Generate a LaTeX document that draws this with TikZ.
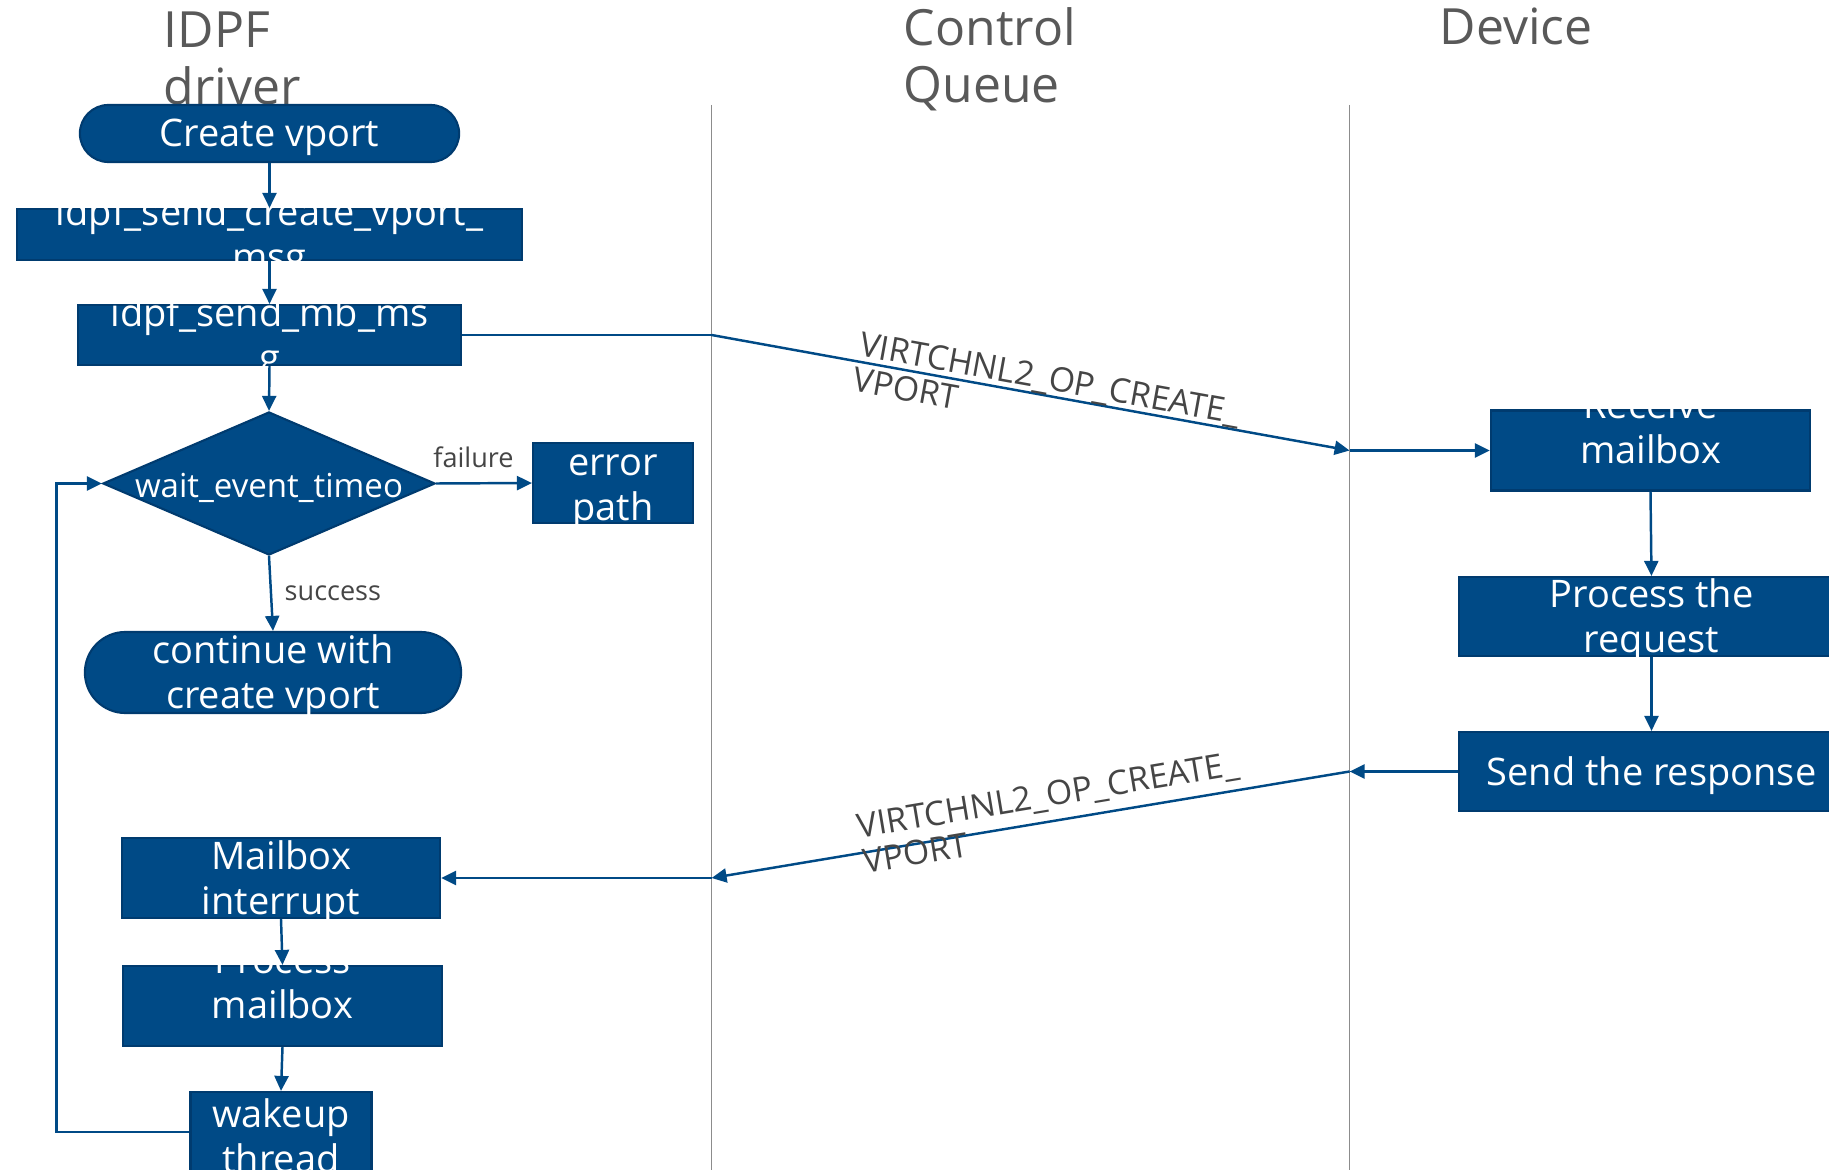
\documentclass[tikz,border=0pt]{standalone}
\usepackage{fontspec}
\setmainfont{Open Sans}
\usetikzlibrary{shapes.geometric,shapes.misc,arrows.meta}

\definecolor{blkblue}{HTML}{004A86}
\definecolor{blkedge}{HTML}{003B6F}
\definecolor{hdrgray}{HTML}{595959}
\definecolor{msggray}{HTML}{454545}
\definecolor{lanegray}{HTML}{8C8C8C}

\def\blkfont{\fontsize{10.8}{12.8}\selectfont}
\def\hdrfont{\fontsize{14.2}{16.2}\selectfont}
\def\msgfont{\fontsize{9.6}{10.2}\selectfont}
\def\askfont{\fontsize{9.4}{11}\selectfont}
\def\tagfont{\fontsize{7.7}{9}\selectfont}

\tikzset{
    blk/.style 2 args={rectangle, draw=blkedge, fill=blkblue, line width=0.6pt,
        inner sep=0pt, minimum width=#1, minimum height=#2},
    term/.style 2 args={rounded rectangle, draw=blkedge, fill=blkblue, line width=0.6pt,
        inner sep=0pt, minimum width=#1, minimum height=#2},
    blktxt/.style={text=white, font=\blkfont, align=center, yshift=-0.04cm},
    hdr/.style={text=hdrgray, font=\hdrfont, align=left, inner sep=0pt},
    flow/.style={draw=blkblue, line width=0.7pt, -{Triangle[length=0.15cm,width=0.14cm]}},
    wire/.style={draw=blkblue, line width=0.4pt},
    lane/.style={draw=lanegray, line width=0.5pt},
    msg/.style={text=msggray, font=\msgfont, align=left, sloped, inner sep=0pt},
    tag/.style={text=msggray, font=\tagfont, inner sep=0pt},
}

\begin{document}
\begin{tikzpicture}[x=0.01cm, y=-0.01cm]
    \useasboundingbox (0,0) rectangle (1829,1170);
    \clip (0,0) rectangle (1829,1170);

    \node[hdr, anchor=north west] (hidpf) at (163,11) {IDPF\\driver};
    \node[hdr, anchor=north west] (hcq) at (903,7) {Control\\Queue};
    \node[hdr, anchor=base west] (hdev) at (1439,45) {Device};

    \draw[lane] (711.6,105) -- (711.6,1170);
    \draw[lane] (1349.6,105) -- (1349.6,1170);
    \coordinate (q1) at (711.6,335);
    \coordinate (q2) at (1349.6,450.5);
    \coordinate (q3) at (1349.6,771.5);
    \coordinate (q4) at (711.6,878);
    \coordinate (loop) at (56.5,1132);

    % driver side
    \node[term={3.79cm}{0.57cm}, label={[blktxt]center:Create vport}] (cv) at (269.5,133.5) {};
    \node[blk={5.05cm}{0.51cm}, label={[blktxt]center:{idpf\_send\_create\_vport\_\\msg}}] (scv) at (269.5,234.5) {};
    \node[blk={3.83cm}{0.60cm}, label={[blktxt]center:{idpf\_send\_mb\_ms\\g}}] (smb) at (269.5,335) {};
    \node[diamond, draw=blkedge, fill=blkblue, line width=0.6pt, inner sep=0pt,
        minimum width=3.32cm, minimum height=1.43cm,
        label={[blktxt, font=\askfont]center:wait\_event\_timeo}] (wait) at (269,483.5) {};
    \node[blk={1.60cm}{0.80cm}, label={[blktxt, yshift=-0.05cm]center:{error\\path}}] (err) at (613,483) {};
    \node[term={3.76cm}{0.81cm}, label={[blktxt]center:{continue with\\create vport}}] (cont) at (273,672.5) {};
    \node[blk={3.18cm}{0.80cm}, label={[blktxt]center:{Mailbox\\interrupt}}] (mbi) at (281,878) {};
    \node[blk={3.19cm}{0.80cm}, label={[blktxt, yshift=0.27cm]center:{Process\\mailbox}}] (pmb) at (282.5,1006) {};
    \node[blk={1.81cm}{0.80cm}, label={[blktxt]center:{wakeup\\thread}}] (wake) at (281,1132) {};

    % device side
    \node[blk={3.19cm}{0.80cm}, label={[blktxt, yshift=0.27cm]center:{Receive\\mailbox}}] (rcv) at (1650.5,450.5) {};
    \node[blk={3.85cm}{0.79cm}, label={[blktxt]center:{Process the\\request}}] (preq) at (1651.5,616.5) {};
    \node[blk={3.85cm}{0.79cm}, label={[blktxt]center:Send the response}] (resp) at (1651.5,771.5) {};

    \draw[flow] (cv.south) -- (scv.north);
    \draw[flow] (scv.south) -- (smb.north);
    \draw[flow] (smb.south) -- (wait.north);
    \draw[flow] (wait.east) -- node[tag, pos=0.39, above=0.14cm] {failure} (err.west);
    \draw[flow] (wait.south) -- node[tag, right=0.125cm] {success} (cont.north);
    \draw[flow] (wake.west) -- (loop) |- (wait.west);
    \draw[flow] (mbi.south) -- (pmb.north);
    \draw[flow] (pmb.south) -- (wake.north);

    \draw[wire] (smb.east) -- (q1);
    \draw[flow] (q1) -- node[msg, pos=0.526] {VIRTCHNL2\_OP\_CREATE\_\\VPORT} (q2);
    \draw[flow] (q2) -- (rcv.west);
    \draw[flow] (rcv.south) -- (preq.north);
    \draw[flow] (preq.south) -- (resp.north);
    \draw[flow] (resp.west) -- (q3);
    \draw[flow] (q3) -- node[msg, pos=0.466, yshift=0.09cm] {VIRTCHNL2\_OP\_CREATE\_\\VPORT} (q4);
    \draw[flow] (q4) -- (mbi.east);
\end{tikzpicture}
\end{document}
